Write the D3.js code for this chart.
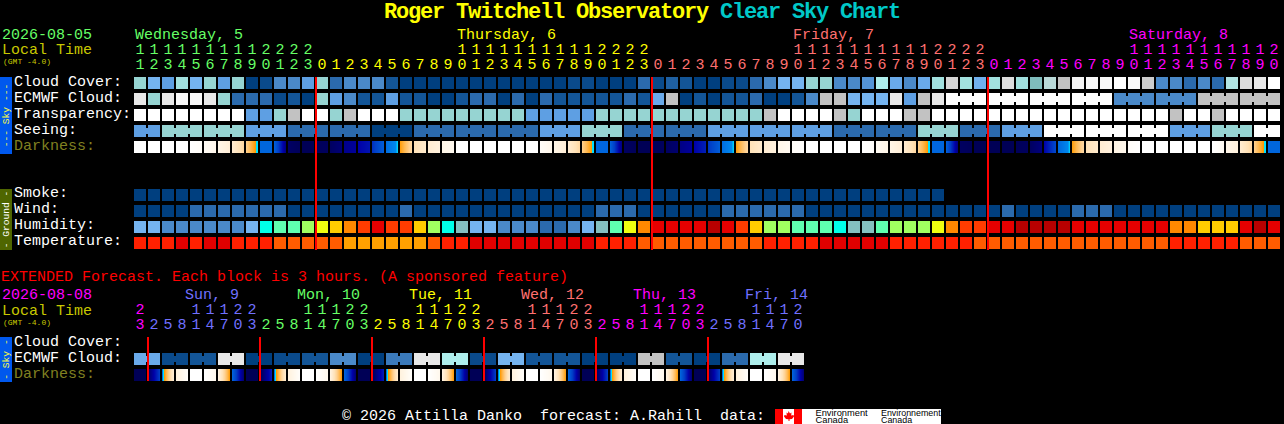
<!DOCTYPE html>
<html>
<head>
<meta charset="utf-8">
<script src="https://cdn.jsdelivr.net/npm/d3@7"></script>
<style>
  html, body { margin: 0; padding: 0; background: #000; overflow: hidden; }
  svg { display: block; }
  text { font-family: "Liberation Mono", monospace; font-size: 15px; }
  .tick text { font-family: "Liberation Mono", monospace; font-size: 15px; }
</style>
</head>
<body>
<div id="chart"></div>
<script>
// hourly forecast, columns start at 11:00 on Wed 5
const mainHours = [11,12,13,14,15,16,17,18,19,20,21,22,23,
  0,1,2,3,4,5,6,7,8,9,10,11,12,13,14,15,16,17,18,19,20,21,22,23,
  0,1,2,3,4,5,6,7,8,9,10,11,12,13,14,15,16,17,18,19,20,21,22,23,
  0,1,2,3,4,5,6,7,8,9,10,11,12,13,14,15,16,17,18,19,20];
const mainDays = ["Wednesday, 5", "Thursday, 6", "Friday, 7", "Saturday, 8"];
const mainDayStart = [0, 23, 47, 71];
const mainDayEnd = [12, 36, 60, 81];
const mainMidnights = [13, 37, 61];

const cloudCover = [60,50,40,65,50,60,40,60,0,5,30,30,40,60,20,30,30,30,10,0,0,
  0,0,0,0,0,0,0,0,0,0,5,5,0,0,0,20,5,15,10,0,0,5,5,20,30,50,50,60,60,30,30,
  35,70,45,30,45,65,85,65,48,65,87,65,57,75,80,95,97,97,100,98,83,30,30,20,30,20,72,87,90,100];
const ecmwfCloud = [90,60,90,97,97,90,60,20,20,20,5,10,0,60,40,30,10,10,40,10,10,
  0,0,10,20,20,0,20,0,20,10,10,10,10,10,20,10,45,80,0,10,0,10,10,20,0,0,10,30,80,80,50,
  50,50,90,40,80,90,100,100,100,100,100,100,100,100,100,100,100,100,30,30,30,30,30,30,80,80,80,80,80,80];
const transparency = [100,100,100,100,100,100,100,100,40,40,60,80,100,100,60,80,100,100,100,60,60,
  60,60,60,60,60,60,60,40,40,40,40,40,60,60,60,60,60,60,60,60,60,60,60,60,80,100,100,100,100,80,60,
  100,100,100,80,80,100,100,100,100,100,100,100,100,100,100,100,100,100,100,100,100,100,80,100,100,80,100,100,100,100];
// seeing comes in 3 hour blocks, the first one is cut short
const seeing = [40,60,60,40,20,20,0,20,20,20,40,60,20,20,40,40,40,20,20,60,20,40,100,100,100,40,60,100];
const darkFrom = [0,0,0,0,0,.4,1,2,4,7,7.1,9.9,10.3,10.2,10,9.4,9,8.3,6.9,5.9,3,
  2,1,0,0,0,0,0,0,.3,1,2,4,7,7.1,10,10.3,10.2,10,9.5,9,8.2,6.9,5.9,3,2,1,.3,0,0,0,0,
  0,.5,1,2,4,7,7.1,10,10.3,10.3,10.3,10.2,10,9,7,5.9,3,2,1.2,.3,0,0,0,0,0,0,1,2,4,7];
const darkTo = [0,0,0,0,.3,.9,1.8,3.6,6.45,7,9.6,10.2,10.3,10.1,9.7,9.2,8.7,7.2,6.4,3.5,2.2,
  1.5,.7,0,0,0,0,0,0,.9,1.8,3.6,6.45,7,9.6,10.2,10.3,10.1,9.8,9.2,8.5,7.2,6.4,3.5,2.2,1.5,.6,.1,0,0,0,0,
  .2,1,1.8,3.6,6.45,7,9.6,10.2,10.3,10.3,10.3,10.1,9.6,7.8,6.4,3.5,2.2,1.5,.8,0,0,0,0,0,0,.6,1.5,3.6,6.45,7];

const smoke = [0,0,0,0,0,0,0,0,0,0,0,0,0,0,0,0,0,0,0,0,0,0,0,0,0,0,0,0,0,
  0,0,0,0,0,0,0,0,0,0,0,0,0,0,0,0,0,0,0,0,0,0,0,0,0,0,0,0,0];
const wind = [0,0,0,0,1,1,1,1,1,1,1,0,0,0,0,0,0,0,0,1,0,
  0,0,0,0,0,0,0,0,0,0,0,0,1,1,1,0,0,0,0,0,0,1,1,1,1,1,1,0,0,0,0,
  0,0,0,0,0,0,0,0,0,0,1,0,0,0,0,1,1,1,0,0,0,0,0,0,0,0,0,0,0,0];
const humidity = [40,40,35,35,35,35,35,35,40,50,55,55,60,65,70,75,80,85,80,80,70,
  60,50,45,40,40,35,35,35,30,30,35,40,45,55,65,75,85,85,85,85,90,85,80,70,60,60,55,55,55,50,45,
  45,55,60,60,60,65,75,80,80,85,85,90,90,90,90,85,85,85,85,85,85,85,75,75,70,70,70,85,90,85];
const temperature = [17,17,17,15,17,15,15,17,17,17,20,20,20,20,20,23,23,23,23,23,23,
  20,17,17,15,15,15,15,15,15,15,15,15,17,17,17,20,20,20,20,20,20,20,20,20,17,17,17,17,15,15,15,
  15,15,17,17,17,17,17,17,20,20,20,20,20,20,20,20,20,20,20,20,20,20,17,17,17,17,17,20,20,20];

// extended forecast, one block is 3 hours
const extHours = [23,2,5,8,11,14,17,20,23,2,5,8,11,14,17,20,23,2,5,8,11,14,17,20,23,
  2,5,8,11,14,17,20,23,2,5,8,11,14,17,20,23,2,5,8,11,14,17,20];
const extDays = ["Sun, 9", "Mon, 10", "Tue, 11", "Wed, 12", "Thu, 13", "Fri, 14"];
const extMidnights = [1, 9, 17, 25, 33, 41];
const extEcmwf = [45,5,10,90,0,5,10,30,0,25,90,70,5,50,10,10,0,0,80,10,0,20,70,90];
const extDarkFrom = [10.3,10,7,1.5,0,0,1.2,7,10.3,10.2,7,1.5,0,0,1.2,7,10.3,10.2,7,1.5,0,0,1.2,7,
  10.3,10.2,6.9,1.5,0,0,1.2,7,10.3,10.2,7,1.5,0,0,1.2,7,10.3,10,7,1.5,0,0,1.2,7];
const extDarkTo = [10.3,8,1.8,.2,0,.8,6,9.8,10.3,8.5,2,.2,0,.8,6,9.8,10.3,8.5,2,.2,0,.8,6,9.8,
  10.3,8,2,.2,0,.8,6,9.8,10.3,8,1.8,.2,0,.8,6,9.8,10.3,8,1.8,.2,0,.8,6,9.8];

const mainDayColors = ["#66ff66", "#ffff00", "#ff7070", "#ff00ff"];
const extDayColors = ["#ff00ff", "#7070ff", "#66ff66", "#ffff00", "#ff7070", "#ff00ff", "#7070ff"];

const width = 1284, height = 424;
const svg = d3.select("#chart").append("svg").attr("width", width).attr("height", height);

// colour scales
const cloudColor = d3.scaleLinear()
  .domain([0,10,20,30,40,50,57,60,70,80,90,100])
  .range(["#003f7f","#135597","#2b6aad","#4a89c9","#5e9fe3","#75b4f0","#7fbdbd","#96d4d2","#aeeeec","#c2c2c2","#e8e8e8","#ffffff"]);
const windColor = d3.scaleOrdinal().domain([0,1]).range(["#003f7f","#2b6aad"]);
const humidityColor = d3.scaleOrdinal()
  .domain([30,35,40,45,50,55,60,65,70,75,80,85,90])
  .range(["#2b6aad","#4a89c9","#75b4f0","#84c0c0","#00ffe8","#5fffb0","#a0ff60","#f0ff10","#ffcc00","#ff8800","#ff3c00","#e60000","#b80000"]);
const tempColor = d3.scaleOrdinal().domain([15,17,20,23]).range(["#e00000","#ff2000","#ff5c00","#ffa000"]);
const darkColor = d3.scaleLinear()
  .domain([0,1,2,3,4,5,6,6.05,6.4,6.5,7,8,9,10,10.5])
  .range(["#ffffff","#fff6e8","#ffecd2","#ffe2b8","#ffd090","#ffb850","#ff9900","#00e0ff","#00e0ff","#0088ee","#0066dd","#0040c8","#0000a8","#000060","#000050"]);

const step = 14, cell = 12;
const mainX = d3.scaleBand().domain(d3.range(mainHours.length))
  .range([134, 134 + step * mainHours.length - (step - cell)]).paddingInner((step - cell) / step);
const extX = d3.scaleBand().domain(d3.range(extHours.length))
  .range([134, 134 + step * extHours.length - (step - cell)]).paddingInner((step - cell) / step);

function drawLabel(txt, x, y, color, size) {
  svg.append("text").attr("x", x).attr("y", y).attr("fill", color)
    .style("font-size", size ? size + "px" : null).style("white-space", "pre").text(txt);
}

// a row of blocks, together(k) says if block k is joined to the next one
function drawRow(values, x, y, color, together) {
  const g = svg.append("g");
  g.selectAll("rect.block").data(values).enter().append("rect")
    .attr("class", "block")
    .attr("x", (d, i) => x(i)).attr("y", y)
    .attr("width", x.bandwidth()).attr("height", cell)
    .attr("fill", d => color(d));
  if (!together) return;
  g.selectAll("rect.bridge").data(values.map((d, i) => ({ d, i })).filter(o => o.i < values.length - 1 && together(o.i)))
    .enter().append("rect")
    .attr("class", "bridge")
    .attr("x", o => x(o.i) + cell).attr("y", y + 3)
    .attr("width", step - cell).attr("height", cell - 6)
    .attr("fill", o => color(o.d));
}

// darkness blocks fade inside the block so they go pixel by pixel
function drawDarkness(from, to, x, y) {
  const px = d3.range(cell);
  const g = svg.append("g");
  from.forEach((a, i) => {
    const b = to[i];
    g.selectAll("rect.k" + i).data(px).enter().append("rect")
      .attr("class", "k" + i)
      .attr("x", p => x(i) + p).attr("y", y)
      .attr("width", p => p === cell - 1 ? 1 : 1.2).attr("height", cell)
      .attr("fill", p => darkColor(a + (b - a) * (p + 0.5) / cell));
  });
}

function hourAxis(x, hours, rowY, pick, fmt, colorOf) {
  const axis = d3.axisTop(x)
    .tickValues(d3.range(hours.length).filter(k => pick(hours[k])))
    .tickSize(0).tickPadding(0)
    .tickFormat(k => fmt(hours[k]));
  const g = svg.append("g").attr("transform", `translate(0,${rowY})`).call(axis);
  g.select(".domain").remove();
  g.selectAll(".tick text").attr("dy", 0).attr("fill", k => colorOf(k));
}

function sideBar(y, h, color, textColor, txt) {
  svg.append("rect").attr("x", 0).attr("y", y).attr("width", 12).attr("height", h).attr("fill", color);
  svg.append("text")
    .attr("transform", `translate(9,${y + h / 2}) rotate(-90)`)
    .attr("text-anchor", "middle").attr("fill", textColor)
    .style("font-size", "9.6px").text(txt);
}

// title
const title = svg.append("text").attr("x", 384).attr("y", 18).attr("font-weight", "bold")
  .style("font-size", "22px").style("letter-spacing", "-1.2px");
title.append("tspan").attr("fill", "#ffff00").text("Roger Twitchell Observatory ");
title.append("tspan").attr("fill", "#00c8c8").text("Clear Sky Chart");

// main header
drawLabel("2026-08-05", 2, 39, mainDayColors[0]);
drawLabel("Local Time", 2, 54, "#c8c800");
drawLabel("(GMT -4.0)", 3, 64, "#c8c800", 8);
mainDays.forEach((d, i) => drawLabel(d, mainX(mainDayStart[i]) + 1, 39, mainDayColors[i]));
const mainHourColor = k => mainDayColors[mainDayEnd.findIndex(e => k <= e)];
hourAxis(mainX, mainHours, 54, h => h >= 10, h => Math.floor(h / 10), mainHourColor);
hourAxis(mainX, mainHours, 69, () => true, h => h % 10, mainHourColor);

// sky rows
sideBar(77, 77, "#0058ee", "#ffff40", "--- Sky ---");
drawLabel("Cloud Cover:", 14, 86, "#ffffff");
drawLabel("ECMWF Cloud:", 14, 102, "#ffffff");
drawLabel("Transparency:", 14, 118, "#ffffff");
drawLabel("Seeing:", 14, 134, "#ffffff");
drawLabel("Darkness:", 14, 150, "#808020");
drawRow(cloudCover, mainX, 77, cloudColor);
drawRow(ecmwfCloud, mainX, 93, cloudColor, k => k >= 58 && (k - 58) % 3 !== 2);
drawRow(transparency, mainX, 109, cloudColor);
drawRow(mainHours.map((h, k) => seeing[Math.floor((k + 1) / 3)]), mainX, 125, cloudColor, k => (k + 1) % 3 !== 2);
drawDarkness(darkFrom, darkTo, mainX, 141);

// ground rows
sideBar(189, 61, "#4f6600", "#ffffff", "- Ground -");
drawLabel("Smoke:", 14, 197, "#ffffff");
drawLabel("Wind:", 14, 213, "#ffffff");
drawLabel("Humidity:", 14, 229, "#ffffff");
drawLabel("Temperature:", 14, 245, "#ffffff");
drawRow(smoke, mainX, 189, cloudColor);
drawRow(wind, mainX, 205, windColor);
drawRow(humidity, mainX, 221, humidityColor);
drawRow(temperature, mainX, 237, tempColor);

// midnight markers
svg.selectAll("rect.midnight").data(mainMidnights).enter().append("rect")
  .attr("class", "midnight")
  .attr("x", k => mainX(k) - 1).attr("y", 77).attr("width", 2).attr("height", 173).attr("fill", "#ff0000");

// extended forecast
drawLabel("EXTENDED Forecast. Each block is 3 hours. (A sponsored feature)", 1, 281, "#ff0000");
drawLabel("2026-08-08", 2, 299, "#ff00ff");
drawLabel("Local Time", 2, 315, "#c8c800");
drawLabel("(GMT -4.0)", 3, 325, "#c8c800", 8);
extDays.forEach((d, i) => drawLabel(d, mainX(0) + 51 + i * 112, 299, extDayColors[i + 1]));
const extHourColor = c => extDayColors[Math.ceil(c / 8)];
hourAxis(extX, extHours, 314, h => h >= 10, h => Math.floor(h / 10), extHourColor);
hourAxis(extX, extHours, 329, () => true, h => h % 10, extHourColor);

sideBar(337, 45, "#0058ee", "#ffff40", "- Sky -");
drawLabel("Cloud Cover:", 14, 346, "#ffffff");
drawLabel("ECMWF Cloud:", 14, 362, "#ffffff");
drawLabel("Darkness:", 14, 378, "#808020");
drawRow(extHours.map((h, c) => extEcmwf[Math.floor(c / 2)]), extX, 353, cloudColor, c => c % 2 === 0);
drawDarkness(extDarkFrom, extDarkTo, extX, 369);
svg.selectAll("rect.extMidnight").data(extMidnights).enter().append("rect")
  .attr("class", "extMidnight")
  .attr("x", c => extX(c) - 1).attr("y", 337).attr("width", 2).attr("height", 44).attr("fill", "#ff0000");

// footer with the Environment Canada logo
drawLabel("© 2026 Attilla Danko  forecast: A.Rahill  data:", 342, 420, "#ffffff");
svg.append("rect").attr("x", 775).attr("y", 409).attr("width", 166).attr("height", 15).attr("fill", "#ffffff");
svg.append("rect").attr("x", 775).attr("y", 409).attr("width", 8).attr("height", 15).attr("fill", "#ff0000");
svg.append("rect").attr("x", 794).attr("y", 409).attr("width", 8).attr("height", 15).attr("fill", "#ff0000");
svg.append("path").attr("d", "M788.5 411 l1.5 2.5 1.5-1 -.3 3 2.3-.5 .5 1.5 -2 2.5 -2.5 .3 v1.7 h-1 v-1.7 l-2.5 -.3 -2 -2.5 .5 -1.5 2.3 .5 -.3 -3 1.5 1z").attr("fill", "#ff0000");
svg.append("clipPath").attr("id", "logoClip").append("rect").attr("x", 775).attr("y", 409).attr("width", 166).attr("height", 15);
const logoText = svg.append("g").attr("clip-path", "url(#logoClip)");
[["Environment", 815.5, 9.3], ["Environnement", 881, 8.9]].forEach(([t, x, size]) => {
  logoText.append("text").attr("x", x).attr("y", 416).attr("fill", "#000").style("font-size", size + "px").style("font-family", "'Liberation Sans'").text(t);
  logoText.append("text").attr("x", x).attr("y", 423).attr("fill", "#000").style("font-size", size + "px").style("font-family", "'Liberation Sans'").text("Canada");
});
</script>
</body>
</html>
